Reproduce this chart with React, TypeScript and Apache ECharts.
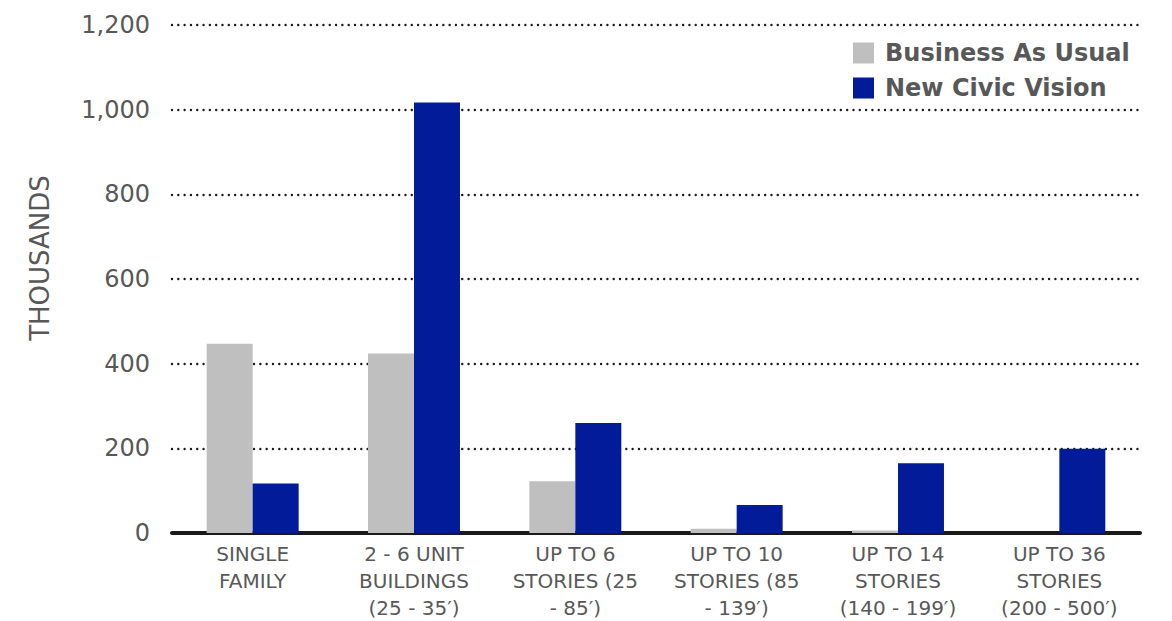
import React, { useEffect, useRef } from "react";
import * as echarts from "echarts";

const categories = [
  "SINGLE\nFAMILY",
  "2 - 6 UNIT\nBUILDINGS\n(25 - 35′)",
  "UP TO 6\nSTORIES (25\n- 85′)",
  "UP TO 10\nSTORIES (85\n- 139′)",
  "UP TO 14\nSTORIES\n(140 - 199′)",
  "UP TO 36\nSTORIES\n(200 - 500′)",
];
const businessAsUsual = [447, 424, 122, 10, 6, 0];
const newCivicVision = [117, 1017, 260, 66, 165, 199];
const seriesNames = ["Business As Usual", "New Civic Vision"];
const yAxisTitle = "THOUSANDS";

const FONT = "'DejaVu Sans', 'Noto Sans', sans-serif";
const TEXT = "#585858";

export default function App() {
  const ref = useRef<HTMLDivElement>(null);
  useEffect(() => {
    if (!ref.current) return;
    const chart = echarts.init(ref.current, undefined, { renderer: "svg" });
    chart.setOption({
      animation: false,
      backgroundColor: "#ffffff",
      textStyle: { fontFamily: FONT },
      grid: { left: 172, right: 32, top: 25, bottom: 86, containLabel: false },
      legend: {
        orient: "vertical",
        left: 848,
        top: 36,
        itemWidth: 21,
        itemHeight: 21,
        itemGap: 11,
        icon: "rect",
        textStyle: {
          fontFamily: FONT,
          fontSize: 24,
          lineHeight: 24,
          fontWeight: "bold",
          color: TEXT,
          padding: [0, 0, 0, 6],
        },
        data: seriesNames,
      },
      graphic: [
        {
          type: "text",
          x: 40,
          y: 258,
          rotation: Math.PI / 2,
          style: {
            text: yAxisTitle,
            fontFamily: FONT,
            fontSize: 26,
            fill: TEXT,
            align: "center",
            verticalAlign: "middle",
          },
        },
      ],
      xAxis: {
        type: "category",
        data: categories,
        axisLine: { lineStyle: { color: "#1a1a1a", width: 4 } },
        axisTick: { show: false },
        axisLabel: {
          interval: 0,
          color: TEXT,
          fontFamily: FONT,
          fontSize: 20,
          lineHeight: 27,
          margin: 7,
          align: "center",
        },
      },
      yAxis: {
        type: "value",
        min: 0,
        max: 1200,
        interval: 200,
        axisLine: { show: false },
        axisTick: { show: false },
        axisLabel: {
          color: TEXT,
          fontFamily: FONT,
          fontSize: 24,
          margin: 22,
          formatter: (v: number) => v.toLocaleString("en-US"),
        },
        splitLine: {
          lineStyle: { color: "#1a1a1a", width: 2.4, type: [0.01, 6.3], cap: "round" },
        },
      },
      series: [
        {
          name: seriesNames[0],
          type: "bar",
          data: businessAsUsual,
          barGap: "0%",
          barCategoryGap: "43%",
          itemStyle: { color: "#bfbfbf" },
        },
        {
          name: seriesNames[1],
          type: "bar",
          data: newCivicVision,
          barGap: "0%",
          barCategoryGap: "43%",
          itemStyle: { color: "#021b99" },
        },
      ],
    });
    return () => chart.dispose();
  }, []);
  return <div ref={ref} style={{ width: 1172, height: 621, position: "absolute", left: 0, top: 0 }} />;
}
